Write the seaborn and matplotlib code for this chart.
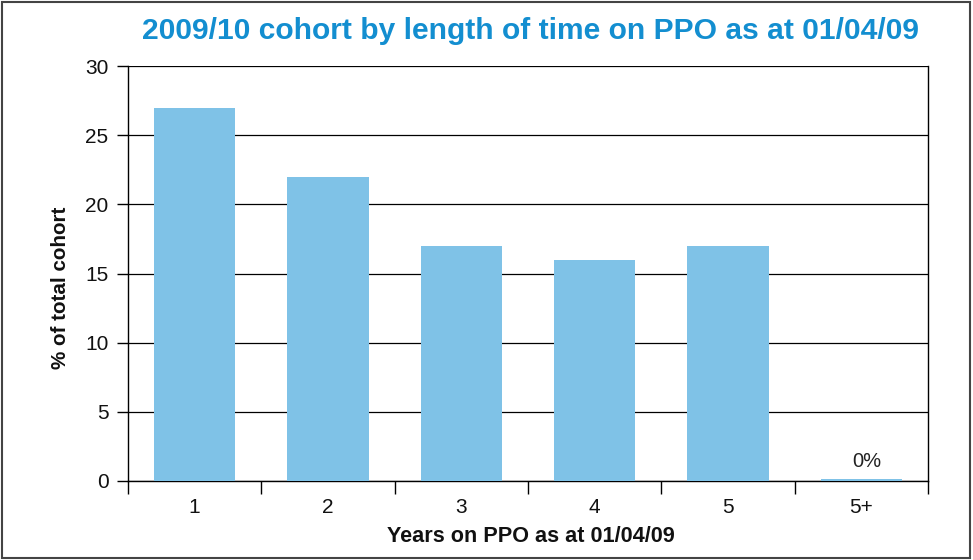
import matplotlib
matplotlib.use("Agg")
import matplotlib.pyplot as plt
import matplotlib.patches as mpatches
from matplotlib.ticker import MultipleLocator, FixedLocator
import seaborn as sns
import pandas as pd

categories = ["1", "2", "3", "4", "5", "5+"]
values = [27, 22, 17, 16, 17, 0.15]
labels_5plus = "0%"
title = "2009/10 cohort by length of time on PPO as at 01/04/09"
xlabel = "Years on PPO as at 01/04/09"
ylabel = "% of total cohort"

sns.set_theme(style="white")
regular = ["Liberation Sans", "DejaVu Sans"]
plt.rcParams["font.family"] = regular

df = pd.DataFrame({"years": categories, "pct": values})

fig = plt.figure(figsize=(9.73, 5.6), dpi=100)
ax = fig.add_axes([128/973, 1-481/560, 800/973, 415/560])

sns.barplot(data=df, x="years", y="pct", color="#7fc2e7", saturation=1,
            width=0.61, ax=ax, zorder=3, linewidth=0, edgecolor="none")

ax.set_ylim(0, 30)
ax.set_xlim(-0.5, 5.5)
ax.yaxis.set_major_locator(MultipleLocator(5))
ax.grid(axis="y", color="black", linewidth=0.9, zorder=0)
ax.set_axisbelow(True)

for s in ["left", "bottom", "right"]:
    ax.spines[s].set_visible(True)
    ax.spines[s].set_color("black")
    ax.spines[s].set_linewidth(1.0)
ax.spines["top"].set_visible(False)

ax.tick_params(axis="y", which="major", direction="out", length=8, width=1,
               color="black", labelsize=15, pad=6, left=True, labelcolor="#111111")
ax.xaxis.set_minor_locator(FixedLocator([i - 0.5 for i in range(len(categories) + 1)]))
ax.tick_params(axis="x", which="major", length=0, pad=12, labelcolor="#111111",
               labelsize=15)
ax.tick_params(axis="x", which="minor", direction="out", length=9, width=1,
               color="black", bottom=True)

ax.set_xlabel("")
ax.set_ylabel("")

ax.text(5.04, 1.0, labels_5plus, ha="center", va="baseline",
        fontsize=14.5, color="#222222")

t_title = fig.text(531/973, 1-39/560, title, ha="center", va="baseline",
                   fontsize=19, fontweight="bold", color="#138ed0")
t_x = fig.text(531/973, 1-542/560, xlabel, ha="center", va="baseline",
               fontsize=14, fontweight="bold", color="#111111")
t_y = fig.text(61/973, 1-288/560, ylabel, ha="center", va="center",
               rotation=90, fontsize=14, fontweight="bold", color="#111111")

# fit text widths to the reference layout
fig.canvas.draw()
r = fig.canvas.get_renderer()
for t, target, horiz in [(t_title, 777, True), (t_x, 288, True), (t_y, 163, False)]:
    bb = t.get_window_extent(r)
    cur = bb.width if horiz else bb.height
    t.set_fontsize(t.get_fontsize() * target / cur)

fig.patches.append(mpatches.Rectangle((0.002, 0.003), 0.995, 0.994,
                                      transform=fig.transFigure, fill=False,
                                      edgecolor="#444444", linewidth=1.5))

fig.savefig("out.png", dpi=100)
